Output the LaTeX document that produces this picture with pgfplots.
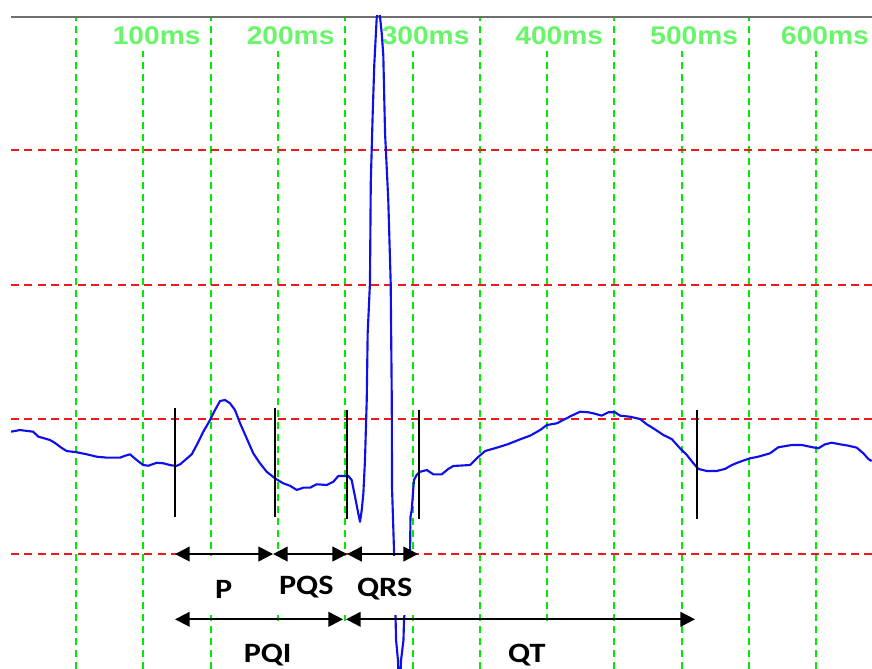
\documentclass[border=0pt]{standalone}
\usepackage{pgfplots}
\pgfplotsset{compat=1.18}
\usepackage{fontspec}
\usetikzlibrary{arrows.meta}
\newfontfamily\msfont[FakeStretch=1.1]{Liberation Sans}
\newfontfamily\labfont[FakeStretch=1.15]{Carlito}
\definecolor{gridgreen}{RGB}{0,235,0}
\definecolor{labgreen}{RGB}{105,245,105}
\definecolor{gridred}{RGB}{238,25,25}
\definecolor{traceblue}{RGB}{15,15,235}
\definecolor{topgray}{RGB}{110,110,110}
\begin{document}
\begin{tikzpicture}
\begin{axis}[
  name=ax,
  scale only axis, width=645.75pt, height=489.75pt,
  xmin=-48.3, xmax=591.4, ymin=-85.4, ymax=399.7,
  xtick=\empty, ytick=\empty,
  axis line style={draw=none},
  clip mode=individual,
]
% grid lines (50 ms vertical, 100 units horizontal)
\foreach \g in {0,50,...,550}{
  \edef\temp{\noexpand\draw[gridgreen, line width=1.5pt, dash pattern=on 5pt off 4pt] (axis cs:\g,-85.4) -- (axis cs:\g,399.7);}
  \temp
}
\foreach \g in {0,100,200,300}{
  \edef\temp{\noexpand\draw[gridred, line width=1.4pt, dash pattern=on 6pt off 4pt] (axis cs:-48.3,\g) -- (axis cs:591.4,\g);}
  \temp
}
% top time labels
\foreach \t/\lab in {93.5/100ms,193.0/200ms,293.3/300ms,392.6/400ms,492.9/500ms,590/600ms}{
  \edef\temp{\noexpand\node[anchor=base east, text=labgreen, fill=white, inner xsep=0.8pt, inner ysep=0pt, text height=21pt, text depth=5pt, font=\noexpand\msfont\noexpand\bfseries\noexpand\fontsize{19.2}{20}\noexpand\selectfont] at (axis cs:\t,378.7) {\lab};}
  \temp
}
\draw[topgray, line width=1.3pt] (axis cs:-48.3,399.1) -- (axis cs:591.4,399.1);
% ECG trace
\addplot[traceblue, line width=1.6pt, line join=round] coordinates {
(-48.3,90.9) (-41.6,92.1) (-31.9,90.9) (-28.0,87.2) (-19.3,84.7) (-15.6,82.5) (-10.6,78.8) (-6.9,76.5) (0.5,75.6) (7.9,74.1) (15.4,72.3) (22.8,71.6) (32.7,71.6) (36.4,73.0) (40.1,74.1) (45.1,69.8) (50.0,66.1) (53.7,65.6) (60.0,67.8) (64.9,67.4) (69.8,66.1) (74.3,65.4) (77.3,66.6) (81.0,69.8) (86.0,74.1) (89.7,81.0) (94.6,90.9) (99.6,99.6) (103.3,107.0) (107.0,113.7) (110.7,114.4) (114.4,112.0) (118.1,107.0) (121.9,97.1) (126.8,86.0) (131.7,74.8) (136.7,67.4) (141.7,61.1) (147.9,56.2) (154.0,52.5) (159.0,50.7) (164.0,47.6) (168.9,49.3) (173.9,49.3) (178.8,51.8) (186.3,51.3) (191.2,53.7) (194.9,58.0) (202.3,58.0) (204.8,55.0) (207.3,42.6) (209.7,30.2) (211.0,24.0) (212.3,32.7) (213.5,45.1) (214.7,69.8) (216.0,114.4) (216.7,164.2) (218.4,201.4) (219.0,275.7) (220.4,326.2) (221.6,363.3) (223.4,398.2) (225.0,407.9) (227.1,387.1) (228.3,370.8) (229.6,312.8) (232.0,263.0) (233.8,201.4) (234.6,114.4) (234.8,49.0) (236.3,1.5) (237.8,-63.9) (239.2,-78.8) (240.4,-108.5) (241.5,-78.8) (243.3,-63.9) (243.7,-49.0) (248.2,1.5) (248.5,27.7) (249.4,32.7) (251.1,55.0) (253.1,58.7) (255.6,61.1) (260.6,62.4) (265.5,59.2) (271.7,59.2) (276.6,63.2) (280.3,65.4) (292.7,66.1) (297.7,71.1) (303.9,76.5) (312.6,79.0) (321.2,81.7) (329.9,85.2) (337.3,87.9) (344.8,92.1) (349.7,95.8) (357.2,97.1) (362.1,99.6) (368.3,102.8) (374.5,105.7) (380.6,105.3) (384.4,104.5) (390.6,102.8) (395.5,105.3) (400.5,105.3) (404.2,102.8) (411.6,102.0) (419.1,100.3) (424.0,96.4) (428.9,93.4) (436.4,88.4) (442.6,85.4) (448.8,78.5) (453.8,73.6) (458.7,67.4) (462.4,63.2) (468.6,61.7) (476.0,61.7) (482.2,63.2) (487.2,66.1) (493.4,68.6) (500.8,71.1) (506.9,72.3) (515.6,74.8) (521.8,79.3) (531.8,81.0) (539.2,81.0) (545.4,79.7) (551.5,78.5) (556.5,81.5) (561.5,82.7) (567.7,81.5) (573.8,80.5) (580.1,79.0) (585.0,74.8) (588.7,70.6) (591.2,69.1)
};
% white label boxes
\fill[white] (axis cs:70,-1.5) rectangle (axis cs:255.6,-45.3);
\fill[white] (axis cs:115,-52) rectangle (axis cs:210,-85.4);
\fill[white] (axis cs:310,-52) rectangle (axis cs:360,-85.4);
% segment markers
\addplot[black, line width=1.8pt] coordinates {(73.6,108.5) (73.6,27.5)};
\addplot[black, line width=1.8pt] coordinates {(147.9,108.5) (147.9,27.5)};
\addplot[black, line width=1.8pt] coordinates {(201.4,107.0) (201.4,26.0)};
\addplot[black, line width=1.8pt] coordinates {(254.8,107.0) (254.8,26.0)};
\addplot[black, line width=1.8pt] coordinates {(461.4,107.0) (461.4,26.0)};
% interval arrows
\tikzset{iv/.style={{Triangle[length=11pt,width=11pt]}-{Triangle[length=11pt,width=11pt]}, line width=1.5pt, black}}
\draw[iv] (axis cs:73.6,0) -- (axis cs:146.4,0);
\draw[iv] (axis cs:146.4,0) -- (axis cs:201.4,0);
\draw[iv] (axis cs:201.4,0) -- (axis cs:254.1,0);
\draw[iv] (axis cs:73.6,-48.5) -- (axis cs:198.4,-48.5);
\draw[iv] (axis cs:200.6,-48.5) -- (axis cs:459.9,-48.5);
% labels
\tikzset{lb/.style={anchor=base, inner sep=0pt, font=\labfont\bfseries\fontsize{21}{22}\selectfont}}
\node[lb] at (axis cs:109.7,-32.9) {P};
\node[lb] at (axis cs:171.1,-30.4) {PQS};
\node[lb] at (axis cs:229.3,-31.2) {QRS};
\node[lb] at (axis cs:142.4,-80.5) {PQI};
\node[lb] at (axis cs:334.9,-80.5) {QT};
\end{axis}
\pgfresetboundingbox
\path[use as bounding box] ([xshift=-8.25pt]ax.south west) rectangle ([yshift=12pt]ax.north east);
\end{tikzpicture}
\end{document}
